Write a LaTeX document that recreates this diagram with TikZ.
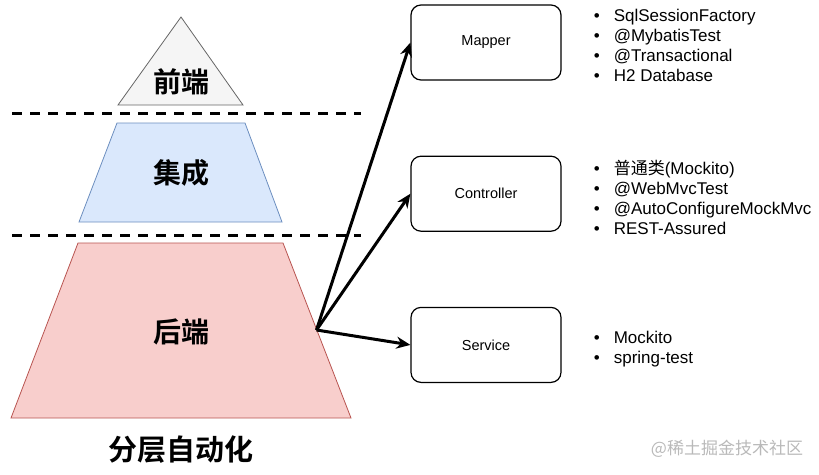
\documentclass[tikz,border=0pt]{standalone}
\usepackage{fontspec}
\setmainfont{Liberation Sans}
\newfontfamily\cjk{Noto Sans CJK SC}[BoldFont={Noto Sans CJK SC Bold}]
\usepackage{tikz}
\usetikzlibrary{positioning,shapes,arrows.meta}

\definecolor{frontfill}{HTML}{F5F5F5}
\definecolor{frontline}{HTML}{666666}
\definecolor{midfill}{HTML}{DAE8FC}
\definecolor{midline}{HTML}{6C8EBF}
\definecolor{backfill}{HTML}{F8CECC}
\definecolor{backline}{HTML}{B85450}

\newcommand{\itemline}[1]{\makebox[20pt][l]{\textbullet}#1}

\begin{document}
\begin{tikzpicture}[x=1pt, y=-1pt,
    layer/.style={line width=0.8pt},
    layerlabel/.style={font=\cjk\bfseries\fontsize{28}{28}\selectfont},
    class/.style={rectangle, draw=black, line width=1.2pt, rounded corners=10pt, minimum width=150pt, minimum height=75pt, font=\fontsize{14.5}{17}\selectfont},
    items/.style={align=left, inner sep=0pt, anchor=west, font=\fontsize{17}{20}\selectfont},
    divider/.style={dashed, line width=3pt, dash pattern=on 10pt off 8pt},
    arrow/.style={-{Stealth[length=14pt,width=12pt]}, line width=3pt}
]
    \useasboundingbox (0,0) rectangle (819,474);

    \draw[layer, draw=frontline, fill=frontfill] (181,17) -- (243,105) -- (118,105) -- cycle;
    \draw[layer, draw=midline, fill=midfill] (117,123) -- (245,123) -- (282,222) -- (79,222) -- cycle;
    \draw[layer, draw=backline, fill=backfill] (78,243) -- (283,243) -- (351,418) -- (11,418) -- cycle;

    \node[layerlabel] (frontend01) at (181,82) {前端};
    \node[layerlabel] (integration01) at (181,173) {集成};
    \node[layerlabel] (backend01) at (181,332) {后端};
    \coordinate (backedge01) at (316.5,330);

    \draw[divider] (12,113) -- (361,113);
    \draw[divider] (12,235) -- (361,235);

    \node[font=\cjk\bfseries\fontsize{29}{29}\selectfont] (title01) at (181,450) {分层自动化};

    \node[class] (mapper01) at (486,42.5) {Mapper};
    \node[class, below=75pt of mapper01] (controller01) {Controller};
    \node[class, below=75pt of controller01] (service01) {Service};

    \draw[arrow] (backedge01) -- (mapper01.west);
    \draw[arrow] (backedge01) -- (controller01.west);
    \draw[arrow] (backedge01) -- (service01.west);

    \node[items, right=32pt of mapper01, yshift=-3pt] (mapperlist01) {
        \itemline{SqlSessionFactory} \\
        \itemline{@MybatisTest} \\
        \itemline{@Transactional} \\
        \itemline{H2 Database}
    };
    \node[items, right=32pt of controller01, yshift=-4pt] (controllerlist01) {
        \itemline{{\cjk 普通类}(Mockito)} \\
        \itemline{@WebMvcTest} \\
        \itemline{@AutoConfigureMockMvc} \\
        \itemline{REST-Assured}
    };
    \node[items, right=32pt of service01, yshift=-4pt] (servicelist01) {
        \itemline{Mockito} \\
        \itemline{spring-test}
    };

    \node[text=gray!55, font=\cjk\fontsize{17}{17}\selectfont] (mark01) at (727,449) {@稀土掘金技术社区};
\end{tikzpicture}
\end{document}
